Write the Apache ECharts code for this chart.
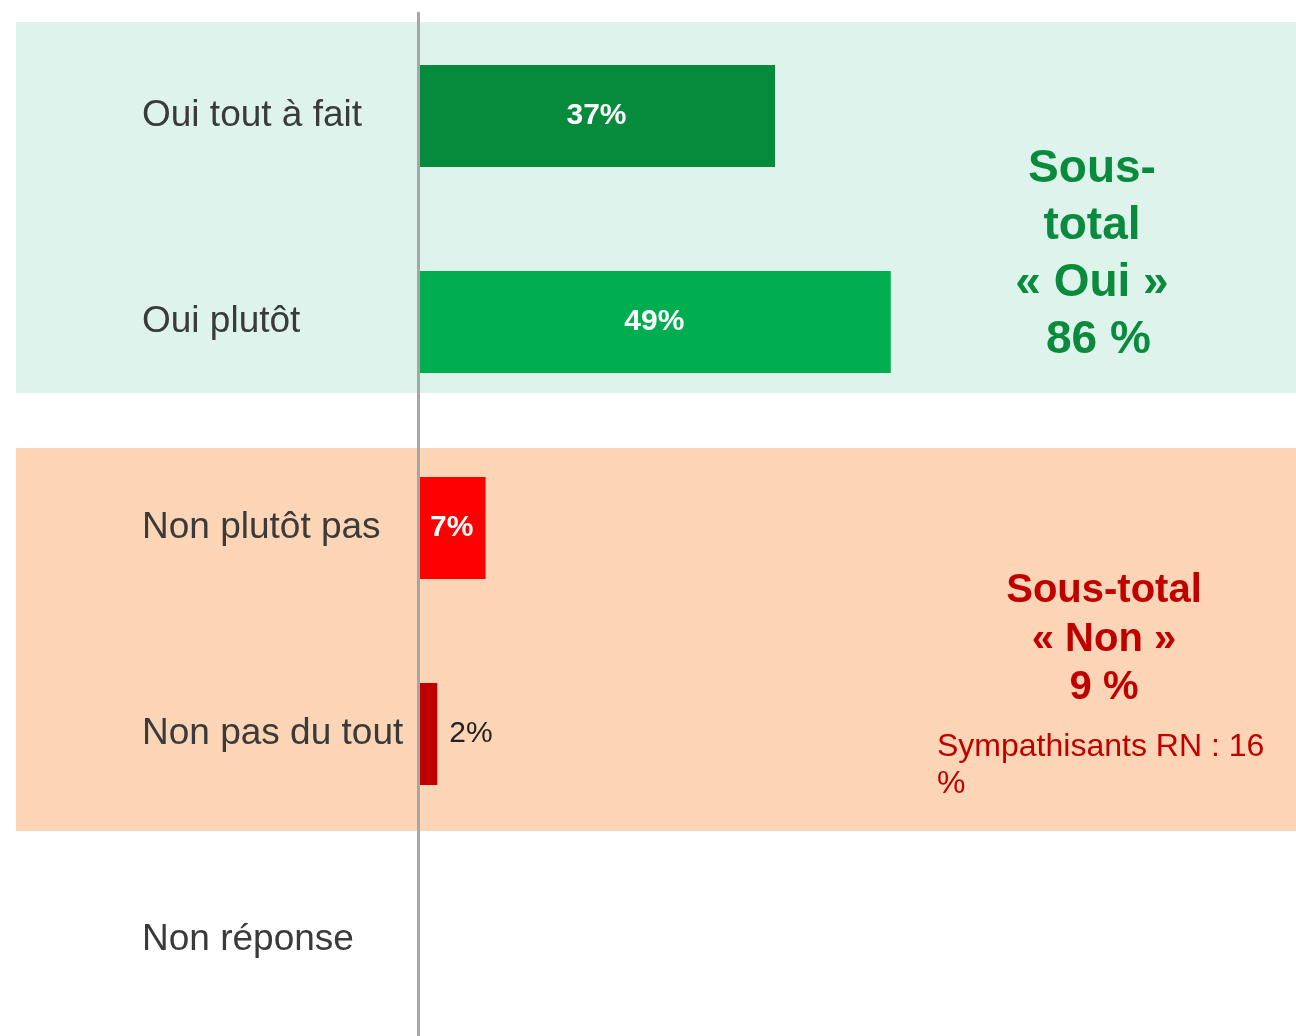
<!DOCTYPE html>
<html lang="fr">
<head>
    <meta charset="utf-8">
    <title>Sous-total Oui / Non</title>
    <script src="https://cdn.jsdelivr.net/npm/echarts@6/dist/echarts.min.js"></script>
    <style>
        html, body { margin: 0; padding: 0; background: #fff; }
        #main { width: 1296px; height: 1036px; }
    </style>
</head>
<body>
<div id="main"></div>
<script type="text/javascript">
    // données
    var categories = ['Oui tout à fait', 'Oui plutôt', 'Non plutôt pas', 'Non pas du tout', 'Non réponse'];
    var values = [37, 49, 7, 2, null];
    var barColors = ['#068a3c', '#00ad4f', '#ff0000', '#c00000', '#c00000'];
    // label dans la barre ou à droite
    var labelInside = [true, true, true, false, false];

    var myChart = echarts.init(document.getElementById('main'));

    var barData = values.map(function (v, i) {
        return {
            value: v,
            itemStyle: { color: barColors[i] },
            label: labelInside[i]
                ? { position: 'inside', color: '#fff', fontWeight: 'bold' }
                : { position: 'right', distance: 12, color: '#222', fontWeight: 'normal' }
        };
    });

    var option = {
        animation: false,
        backgroundColor: '#fff',
        grid: { left: 418, right: 0, top: 13, height: 1030, outerBoundsMode: 'none', containLabel: false },
        xAxis: {
            type: 'value',
            min: 0,
            max: 91,
            show: false
        },
        yAxis: {
            type: 'category',
            inverse: true,
            data: categories,
            axisLine: { show: true, lineStyle: { color: '#a6a6a6', width: 3 } },
            axisTick: { show: false },
            axisLabel: {
                align: 'left',
                margin: 276,
                fontSize: 37,
                padding: [6, 0, 0, 0],
                color: '#3a3a3a',
                fontFamily: 'Liberation Sans, Arial, sans-serif'
            },
            z: 5
        },
        series: [
            {
                type: 'bar',
                data: barData,
                barWidth: 102,
                label: {
                    show: true,
                    fontSize: 30,
                    padding: [4, 0, 0, 0],
                    fontFamily: 'Liberation Sans, Arial, sans-serif',
                    formatter: function (p) { return p.value == null ? '' : p.value + '%'; }
                }
            }
        ],
        graphic: [
            { type: 'rect', z: -10, shape: { x: 16, y: 22, width: 1280, height: 371 }, style: { fill: '#ddf3eb' } },
            { type: 'rect', z: -10, shape: { x: 16, y: 448, width: 1280, height: 383 }, style: { fill: '#fbd5b5' } },
            {
                type: 'text', z: 10, x: 1092, y: 141,
                style: {
                    text: 'Sous-\ntotal\n« Oui »\n 86 %',
                    fill: '#0a8a3c',
                    font: 'bold 46px "Liberation Sans", Arial, sans-serif',
                    lineHeight: 57,
                    align: 'center',
                    verticalAlign: 'top'
                }
            },
            {
                type: 'text', z: 10, x: 1104, y: 567,
                style: {
                    text: 'Sous-total\n« Non »\n9 %',
                    fill: '#c00000',
                    font: 'bold 40px "Liberation Sans", Arial, sans-serif',
                    lineHeight: 48.5,
                    align: 'center',
                    verticalAlign: 'top'
                }
            },
            {
                type: 'text', z: 10, x: 937, y: 729,
                style: {
                    text: 'Sympathisants RN : 16\n%',
                    fill: '#c00000',
                    font: '32px "Liberation Sans", Arial, sans-serif',
                    lineHeight: 37,
                    align: 'left',
                    verticalAlign: 'top'
                }
            }
        ]
    };

    myChart.setOption(option);
</script>
</body>
</html>
